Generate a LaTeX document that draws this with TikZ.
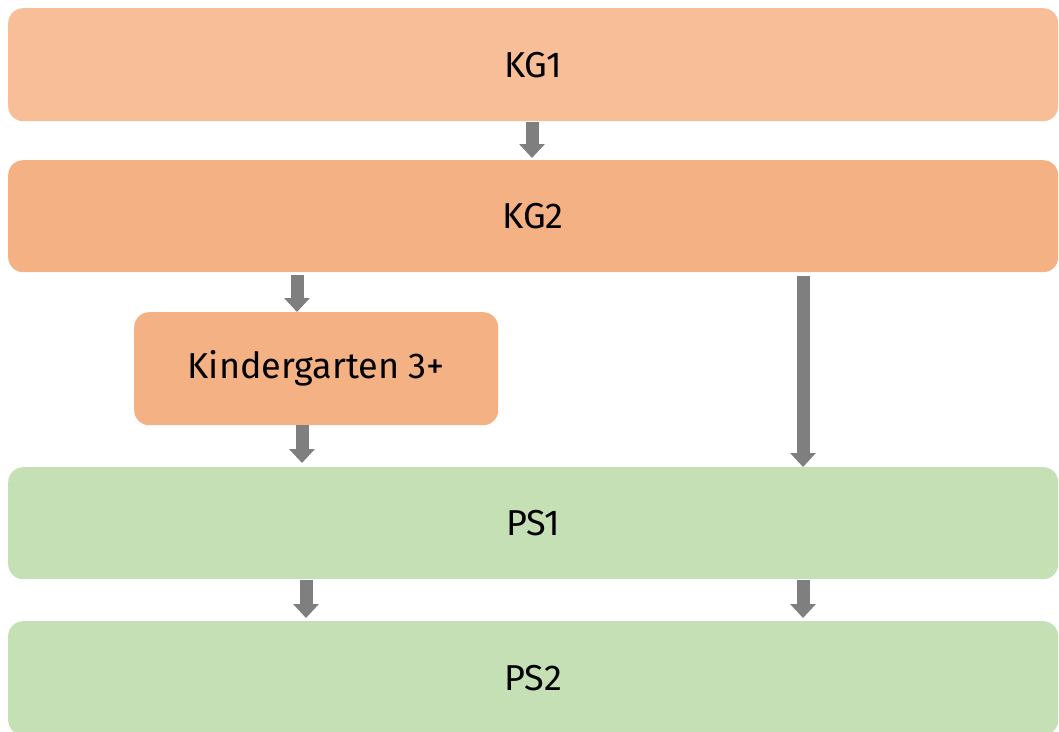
\documentclass[tikz,border=0pt]{standalone}
\usepackage{fontspec}
\setmainfont{Fira Sans}
\usetikzlibrary{arrows.meta,calc}
\definecolor{kgone}{HTML}{F7BE98}
\definecolor{kgtwo}{HTML}{F4B183}
\definecolor{psgreen}{HTML}{C5E0B4}
\definecolor{arrgray}{HTML}{7F7F7F}
\tikzset{
  box/.style={rounded corners=15pt, inner sep=0pt, anchor=north west, font=\fontsize{36}{40}\selectfont, text=black},
  arr/.style={draw=arrgray, line width=13pt, -{Triangle[width=25pt,length=14pt]}, arrgray}
}
\begin{document}
\begin{tikzpicture}[x=1pt,y=-1pt]
\useasboundingbox (0,0) rectangle (1059,731);
\node[box, fill=kgone, minimum width=1050pt, minimum height=113pt] (kg1) at (8,8) {KG1};
\node[box, fill=kgtwo, minimum width=1050pt, minimum height=112pt] (kg2) at (8,160) {KG2};
\node[box, fill=kgtwo, minimum width=364pt, minimum height=113pt] (k3) at (134,312) {Kindergarten 3+};
\node[box, fill=psgreen, minimum width=1050pt, minimum height=112pt] (ps1) at (8,467) {PS1};
\node[box, fill=psgreen, minimum width=1050pt, minimum height=114pt] (ps2) at (8,621) {PS2};
% arrows
\draw[arr] ($(kg1.south west)+(524,1)$) -- ($(kg2.north west)+(524,-2)$);
\draw[arr] ($(kg2.south west)+(289,3)$) -- ($(k3.north west)+(163,0)$);
\draw[arr] ($(k3.south west)+(168,0)$) -- ($(ps1.north west)+(294,-4)$);
\draw[arr] ($(kg2.south west)+(795,4)$) -- ($(ps1.north west)+(795,0)$);
\draw[arr] ($(ps1.south west)+(298,1)$) -- ($(ps2.north west)+(298,-3)$);
\draw[arr] ($(ps1.south west)+(795,1)$) -- ($(ps2.north west)+(795,-3)$);
\end{tikzpicture}
\end{document}
